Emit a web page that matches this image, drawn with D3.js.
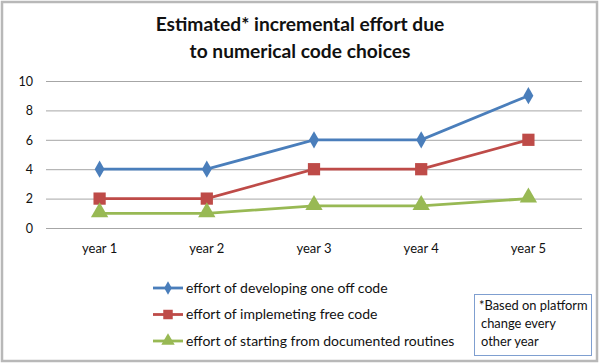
<!DOCTYPE html>
<html><head><meta charset="utf-8">
<script src="https://cdn.jsdelivr.net/npm/d3@7"></script>
<style>body{margin:0;background:#fff}svg{display:block}</style>
</head><body>
<script>
const categories = ["year 1","year 2","year 3","year 4","year 5"];
const developing = [4,4,6,6,9];
const implementing = [2,2,4,4,6];
const starting = [1,1,1.5,1.5,2];
const yTicks = [0,2,4,6,8,10];
const seriesNames = ["effort of developing one off code","effort of implemeting  free code","effort of starting  from documented routines"];
const titleLines = ["Estimated* incremental effort due","to numerical code choices"];
const noteLines = ["*Based on platform","change every","other year"];

const W=600,H=364;
const font="Lato, 'Open Sans', sans-serif";
const svg=d3.select("body").append("svg").attr("width",W).attr("height",H);
svg.append("rect").attr("x",2).attr("y",2).attr("width",W-5).attr("height",H-5)
  .attr("fill","#fff").attr("stroke","#b8b8b8").attr("stroke-width",2.5);

const title=svg.append("text").attr("text-anchor","middle").attr("font-family",font)
  .attr("font-weight","bold").attr("font-size",19.2).attr("fill","#111");
titleLines.forEach((t,i)=>title.append("tspan").attr("x",300).attr("y",31+i*27).text(t));

const x=d3.scaleBand().domain(categories).range([46,582]);
const y=d3.scaleLinear().domain([0,10]).range([228,81]);

const grid=svg.append("g");
grid.selectAll("line").data(yTicks).join("line")
  .attr("x1",46).attr("x2",582).attr("y1",d=>y(d)+0.5).attr("y2",d=>y(d)+0.5)
  .attr("stroke","#a6a6a6").attr("stroke-width",1);

const yAxis=svg.append("g").attr("transform","translate(46,0)")
  .call(d3.axisLeft(y).tickValues(yTicks).tickSize(0).tickPadding(13));
yAxis.select(".domain").remove();
yAxis.selectAll("text").attr("font-family",font).attr("font-size",12.5).attr("fill","#111").attr("dy","0.35em");

const xAxis=svg.append("g").attr("transform","translate(0,228)")
  .call(d3.axisBottom(x).tickSize(0).tickPadding(16));
xAxis.select(".domain").remove();
xAxis.selectAll("text").attr("font-family",font).attr("font-size",13).attr("fill","#111");

const colors=["#4a7ebb","#be4b48","#98b954"];
const data=[developing,implementing,starting];
const shapes=[d3.symbolDiamond,d3.symbolSquare,d3.symbolTriangle];
const sizes=[85,150,130];
const cx=d=>x(d)+x.bandwidth()/2;
const line=d3.line().x((d,i)=>cx(categories[i])).y(d=>y(d));

data.forEach((vals,s)=>{
  svg.append("path").datum(vals).attr("d",line).attr("fill","none")
    .attr("stroke",colors[s]).attr("stroke-width",2.8);
  svg.selectAll(null).data(vals).join("path")
    .attr("transform",(d,i)=>`translate(${cx(categories[i])},${y(d)+(s===2?-1:0)})`)
    .attr("d",d3.symbol().type(shapes[s]).size(sizes[s])).attr("fill",colors[s]);
});

const leg=svg.append("g");
seriesNames.forEach((n,i)=>{
  const ly=288+i*26.5;
  leg.append("line").attr("x1",153).attr("x2",183).attr("y1",ly).attr("y2",ly)
    .attr("stroke",colors[i]).attr("stroke-width",2.8);
  leg.append("path").attr("transform",`translate(168,${ly})`)
    .attr("d",d3.symbol().type(shapes[i]).size(sizes[i]*0.6)).attr("fill",colors[i]);
  leg.append("text").attr("x",186).attr("y",ly).attr("dy","0.35em")
    .attr("font-family",font).attr("font-size",14).attr("fill","#111").text(n);
});

svg.append("rect").attr("x",474.5).attr("y",294.5).attr("width",117).attr("height",61)
  .attr("fill","#fff").attr("stroke","#7f9fd0").attr("stroke-width",1);
const note=svg.append("text").attr("font-family",font).attr("font-size",12.9).attr("fill","#111");
noteLines.forEach((t,i)=>note.append("tspan").attr("x",i===0?479:481).attr("y",310+i*18).text(t));
</script>
</body></html>
